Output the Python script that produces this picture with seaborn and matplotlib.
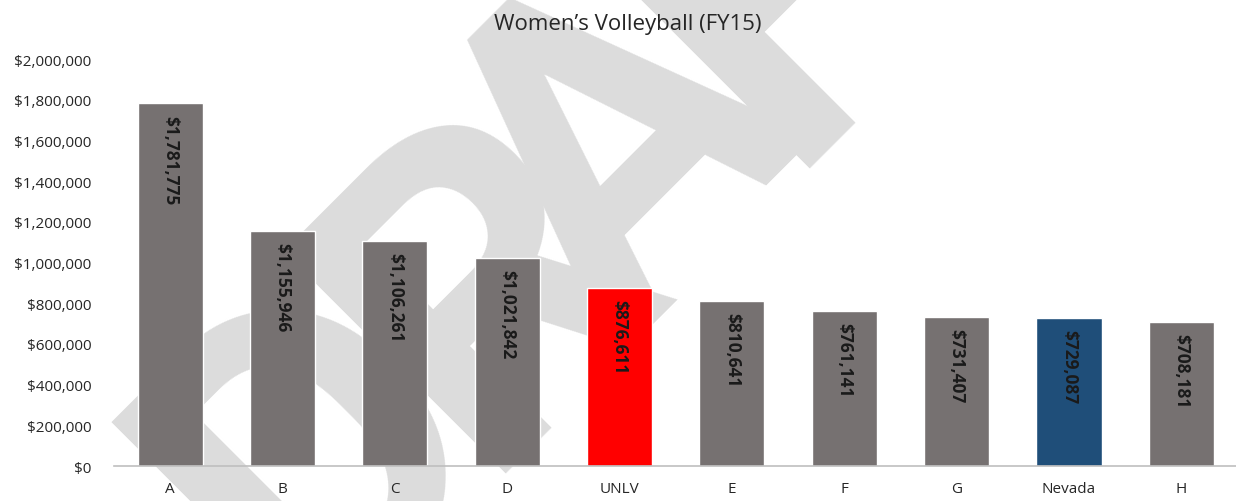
import numpy as np
import seaborn as sns
import matplotlib.pyplot as plt
import pandas as pd
from matplotlib.ticker import FuncFormatter

# data
schools = ['A', 'B', 'C', 'D', 'UNLV', 'E', 'F', 'G', 'Nevada', 'H']
spending = [1781775, 1155946, 1106261, 1021842, 876611, 810641, 761141, 731407, 729087, 708181]
bar_colors = ['#767171', '#767171', '#767171', '#767171', '#FF0000',
              '#767171', '#767171', '#767171', '#1F4E79', '#767171']

# watermark letters and where they sit along the 45 degree baseline (px)
wm_letters = ['D', 'R', 'A', 'F', 'T']
wm_along = [-95, 145, 333, 555, 755]
wm_base = 672

df = pd.DataFrame({'school': schools, 'spending': spending})

sns.set_style('white')
plt.rcParams['font.family'] = ['Open Sans', 'DejaVu Sans']

W, H = 1236, 502
fig = plt.figure(figsize=(W / 100, H / 100), dpi=100)
ax = fig.add_axes([0.0922, 0.0697, 0.909, 0.8107])
ax.patch.set_alpha(0)

# DRAFT watermark behind everything
for ch, u in zip(wm_letters, wm_along):
    px = (u + wm_base) / np.sqrt(2)
    py = (wm_base - u) / np.sqrt(2)
    fig.text(px / W, 1 - py / H, ch, fontsize=318, color='#DCDCDC',
             family=['Liberation Sans Narrow', 'Roboto'], fontweight='bold',
             rotation=45, rotation_mode='anchor', ha='center', va='baseline',
             zorder=-5)

sns.barplot(data=df, x='school', y='spending', hue='school',
            palette=bar_colors, width=0.58, legend=False, ax=ax, saturation=1)

for i, v in enumerate(spending):
    ax.annotate(f'${v:,.0f}', (i, v), xytext=(0, -8), textcoords='offset points',
                rotation=270, ha='center', va='top', fontsize=12.5,
                fontweight='bold', color='#1A1A1A')

ax.set_ylim(0, 2000000)
ax.set_yticks(range(0, 2000001, 200000))
ax.yaxis.set_major_formatter(FuncFormatter(lambda v, p: f'${v:,.0f}'))
ax.set_xlim(-0.5, len(schools) - 0.5)
ax.set_xlabel('')
ax.set_ylabel('')
ax.tick_params(axis='y', length=0, pad=16, labelsize=11, labelcolor='#262626')
ax.tick_params(axis='x', length=0, pad=11, labelsize=11, labelcolor='#262626')

for s in ['top', 'right', 'left']:
    ax.spines[s].set_visible(False)
ax.spines['bottom'].set_color('#BFBFBF')
ax.spines['bottom'].set_linewidth(1.2)

fig.text(0.508, 0.952, 'Women’s Volleyball (FY15)', fontsize=16,
         color='#262626', ha='center', va='center')

fig.savefig('out.png', dpi=100)
